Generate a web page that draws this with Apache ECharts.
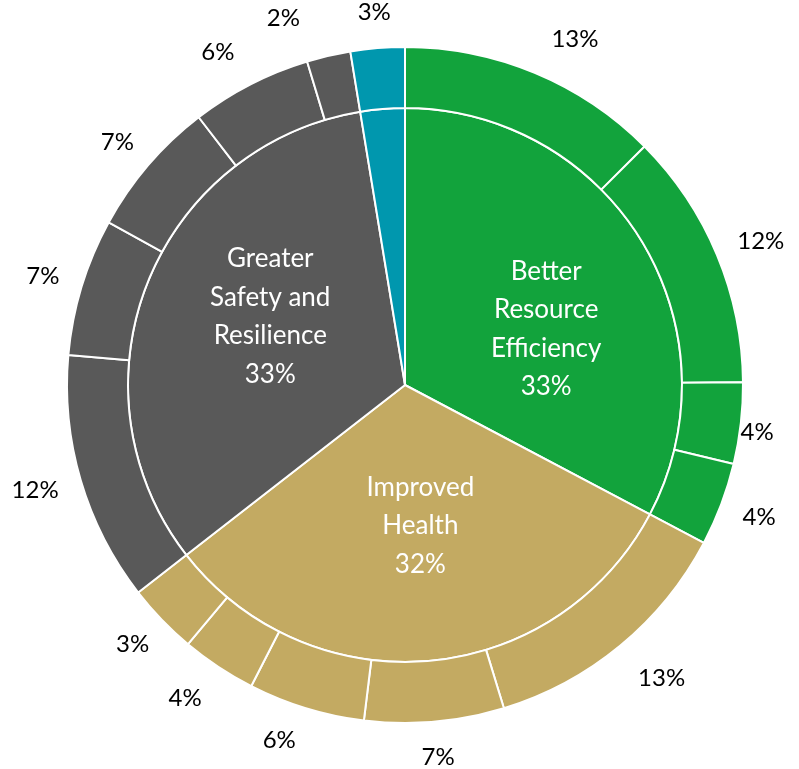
<!DOCTYPE html>
<html>
<head>
<meta charset="UTF-8">
<title>Benefits</title>
<script src="https://cdn.jsdelivr.net/npm/echarts@6/dist/echarts.min.js"></script>
<style>
  html, body { margin: 0; padding: 0; background: #fff; }
  #chart { width: 799px; height: 769px; }
</style>
</head>
<body>
<div id="chart"></div>
<script>
// groups (inner ring), clockwise from 12 o'clock
var groupNames = ['Better\nResource\nEfficiency', 'Improved\nHealth', 'Greater\nSafety and\nResilience', ''];
var groupColors = ['#12a33c', '#c3aa62', '#595959', '#0097ae'];

// outer ring shares (% of total), one list per group
var efficiencyParts = [12.6, 12.4, 3.9, 4.0];
var healthParts = [12.6, 6.7, 5.6, 3.6, 3.4];
var safetyParts = [12.0, 6.6, 6.6, 5.8, 2.1];
var otherParts = [2.6];

var allParts = [efficiencyParts, healthParts, safetyParts, otherParts];

function sum(a){
  var s = 0;
  for (var i = 0; i < a.length; i++) s += a[i];
  return s;
}

var cx = 405, cy = 385;
// nudges for captions that were dragged by hand in the original
var innerShift = [[20, 17], [3, 0], [-3, -17], [0, 0]];
var outerShift = {0: [22, 0], 2: [-24, 5], 4: [11, 5], 6: [-15, -2], 7: [-11, 1], 12: [-14, 0], 13: [-36, -2]};

var innerData = [];
var outerData = [];
for (var g = 0; g < allParts.length; g++) {
  innerData.push({
    name: groupNames[g],
    value: sum(allParts[g]),
    itemStyle: { color: groupColors[g] },
    label: { show: groupNames[g] !== '', offset: innerShift[g] }
  });
  for (var k = 0; k < allParts[g].length; k++) {
    outerData.push({ value: allParts[g][k], itemStyle: { color: groupColors[g] } });
  }
}

// mid angle of each outer slice, clockwise from top (radians)
var total = 0, mids = [];
for (var i = 0; i < outerData.length; i++) total += outerData[i].value;
var run = 0;
for (var i = 0; i < outerData.length; i++) {
  mids.push((run + outerData[i].value / 2) / total * Math.PI * 2);
  run += outerData[i].value;
}

var chart = echarts.init(document.getElementById('chart'));
var font = 'Lato, "Open Sans", sans-serif';
chart.setOption({
  animation: false,
  series: [
    {
      type: 'pie',
      center: [cx, cy],
      radius: [0, 277],
      startAngle: 90,
      silent: true,
      itemStyle: { borderColor: '#fff', borderWidth: 2 },
      label: {
        show: true,
        position: 'inside',
        color: '#fff',
        fontFamily: font,
        fontSize: 26,
        lineHeight: 38.5,
        formatter: function(p){ return p.name + '\n' + Math.round(p.value) + '%'; }
      },
      labelLine: { show: false },
      data: innerData
    },
    {
      type: 'pie',
      center: [cx, cy],
      radius: [277, 338],
      startAngle: 90,
      silent: true,
      avoidLabelOverlap: false,
      itemStyle: { borderColor: '#fff', borderWidth: 2 },
      label: {
        show: true,
        position: 'outside',
        color: '#000',
        fontFamily: font,
        fontSize: 24,
        formatter: function(p){ return Math.round(p.value) + '%'; }
      },
      labelLine: { show: false },
      labelLayout: function(p){
        if (p.seriesIndex !== 1) return;
        var a = mids[p.dataIndex];
        var R = 362;
        var w = p.labelRect.width, h = p.labelRect.height;
        var s = outerShift[p.dataIndex] || [0, 0];
        return {
          x: cx + (R + w / 2) * Math.sin(a) + s[0],
          y: cy - (R + h / 2) * Math.cos(a) + s[1],
          align: 'center',
          verticalAlign: 'middle'
        };
      },
      data: outerData
    }
  ]
});
</script>
</body>
</html>
